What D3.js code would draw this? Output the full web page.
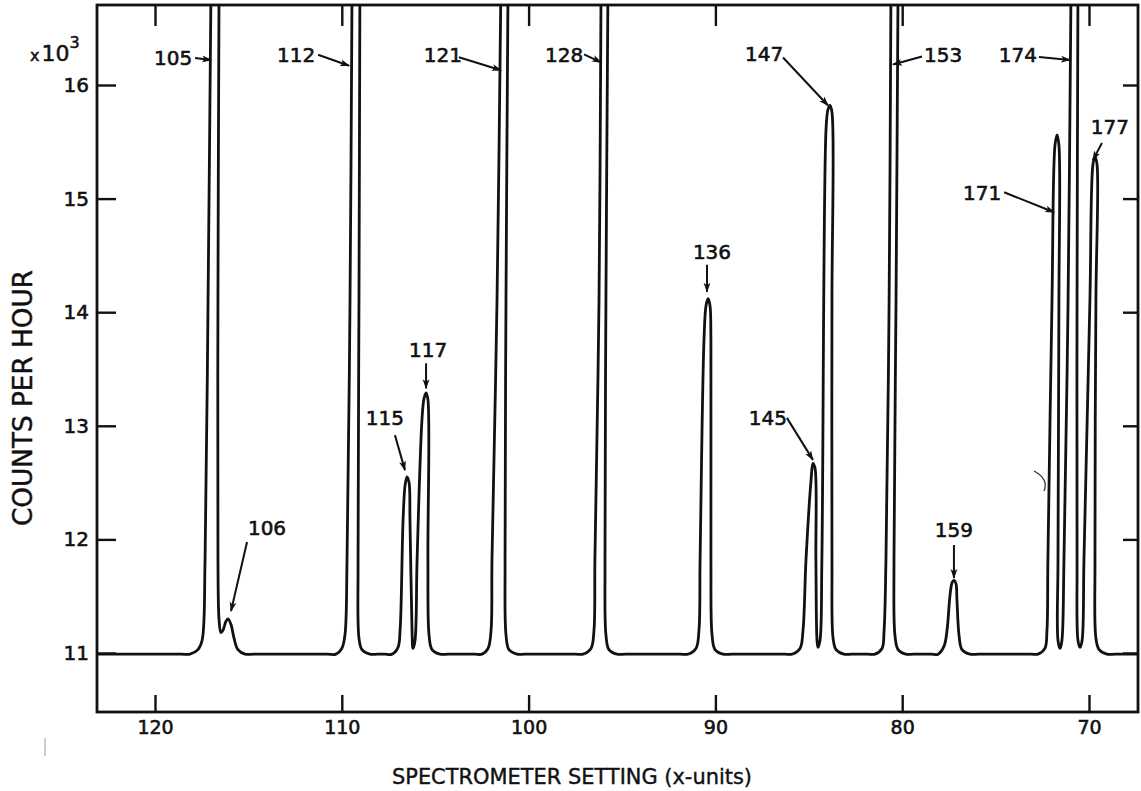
<!DOCTYPE html>
<html>
<head>
<meta charset="utf-8">
<script src="https://cdn.jsdelivr.net/npm/d3@7"></script>
<style>
  html, body { margin: 0; padding: 0; background: #fff; }
  svg { display: block; }
  text { font-family: "DejaVu Sans", "Liberation Sans", sans-serif; fill: #111; }
</style>
</head>
<body>
<svg id="chart" width="1141" height="791"></svg>
<script>
// Recorded trace: [spectrometer setting (x-units), counts per hour (x10^3)], left to right.
// Off-scale lines run past the top of the frame; the pen trace is broken there.
const trace = [
  [123.10, 10.99], [118.60, 10.99], [118.13, 10.99], [117.70, 11.03], [117.48, 11.11], [117.32, 11.82], [117.16, 14.11], [117.00, 16.9],
  [116.57, 16.9], [116.63, 14.11], [116.63, 11.82], [116.57, 11.29], [116.47, 11.18], [116.36, 11.20], [116.20, 11.28],
  [116.09, 11.30], [115.93, 11.25], [115.77, 11.13], [115.56, 11.03], [115.18, 10.99], [114.70, 10.99],
  [110.80, 10.99], [110.31, 10.99], [110.00, 11.04], [109.83, 11.16], [109.72, 11.82], [109.56, 14.11], [109.45, 16.9],
  [109.03, 16.9], [109.08, 14.11], [109.13, 11.82], [109.08, 11.13], [108.92, 11.03], [108.49, 10.99], [108.10, 10.99],
  [107.70, 10.99], [107.31, 10.99], [106.99, 11.05], [106.88, 11.20], [106.72, 12.17], [106.61, 12.48], [106.51, 12.55], [106.40, 12.50],
  [106.35, 12.17], [106.24, 11.20], [106.19, 11.04],
  [106.08, 11.11], [105.97, 11.82], [105.71, 13.05], [105.60, 13.24], [105.49, 13.29], [105.39, 13.23], [105.39, 11.82],
  [105.33, 11.16], [105.17, 11.03], [104.74, 10.99], [104.30, 10.99],
  [102.90, 10.99], [102.49, 10.99], [102.17, 11.04], [102.01, 11.20], [101.96, 11.82], [101.69, 14.11], [101.48, 16.9],
  [101.10, 16.9], [101.21, 14.11], [101.26, 11.82], [101.21, 11.16], [101.05, 11.03], [100.62, 10.99], [100.20, 10.99],
  [97.50, 10.99], [97.09, 10.99], [96.66, 11.04], [96.50, 11.20], [96.45, 11.82], [96.23, 14.11], [96.12, 16.9],
  [95.75, 16.9], [95.86, 14.11], [95.91, 11.82], [95.86, 11.16], [95.70, 11.03], [95.27, 10.99], [94.80, 10.99],
  [91.90, 10.99], [91.47, 10.99], [91.04, 11.04], [90.88, 11.20], [90.82, 11.82], [90.61, 13.76], [90.50, 14.06], [90.39, 14.12],
  [90.29, 14.06], [90.24, 13.76], [90.24, 11.82], [90.18, 11.16], [90.02, 11.03], [89.59, 10.99], [89.10, 10.99],
  [86.30, 10.99], [85.90, 10.99], [85.47, 11.04], [85.31, 11.20], [85.15, 11.82], [84.88, 12.52], [84.78, 12.67], [84.67, 12.63],
  [84.62, 11.82], [84.56, 11.11], [84.51, 11.05],
  [84.40, 11.11], [84.30, 11.82], [84.08, 15.60], [83.98, 15.78], [83.87, 15.82], [83.76, 15.76], [83.76, 14.11],
  [83.76, 11.82], [83.70, 11.13], [83.54, 11.03], [83.12, 10.99], [82.70, 10.99],
  [81.85, 10.99], [81.46, 10.99], [81.08, 11.04], [80.97, 11.20], [80.87, 11.82], [80.70, 14.11], [80.60, 16.9],
  [80.22, 16.9], [80.33, 14.11], [80.44, 11.82], [80.39, 11.16], [80.22, 11.03], [79.80, 10.99], [79.40, 10.99],
  [78.45, 10.99], [78.08, 10.99], [77.76, 11.06], [77.60, 11.20], [77.44, 11.51], [77.33, 11.62], [77.23, 11.64], [77.12, 11.61],
  [77.07, 11.47], [76.96, 11.16], [76.80, 11.03], [76.37, 10.99], [75.90, 10.99],
  [73.10, 10.99], [72.73, 10.99], [72.36, 11.04], [72.25, 11.20], [72.20, 11.82], [71.98, 14.11], [71.82, 15.47], [71.71, 15.56],
  [71.61, 15.47], [71.61, 14.11], [71.66, 11.82], [71.66, 11.11], [71.55, 11.04],
  [71.45, 11.11], [71.34, 11.82], [71.12, 14.11], [70.96, 16.9],
  [70.59, 16.9], [70.64, 14.11], [70.64, 11.82], [70.59, 11.11], [70.48, 11.05],
  [70.37, 11.11], [70.27, 11.82], [69.95, 14.11], [69.79, 15.30], [69.68, 15.37], [69.57, 15.30], [69.63, 14.11],
  [69.68, 11.82], [69.63, 11.13], [69.46, 11.03], [69.04, 10.99], [68.60, 10.99], [67.38, 10.99]
];

// Line identifications and the point on the trace each arrow marks
const lineLabels  = ["105", "106", "112", "115", "117", "121", "128", "136", "145", "147", "153", "159", "171", "174", "177"];
const lineSetting = [117.00, 115.93, 109.61, 106.62, 105.49, 101.48, 96.12, 90.45, 84.78, 83.97, 80.49, 77.23, 71.87, 71.02, 69.79];
const lineCounts  = [16.22, 11.37, 16.17, 12.61, 13.33, 16.13, 16.20, 14.18, 12.70, 15.82, 16.18, 11.66, 14.88, 16.22, 15.34];

const xTicks = [120, 110, 100, 90, 80, 70];
const yTicks = [11, 12, 13, 14, 15, 16];

// Callout placement: label centre and arrow tail, in pixels from the arrow tip
const labelOffset = [[-38, -2], [36, -83], [-53, -11], [-20, -52], [2, -38], [-58, -15], [-37, -7], [5, -40],
                     [-45, -42], [-64, -51], [50, -10], [0, -48], [-72, -19], [-52, -5], [17, -33]];
const tailOffset  = [[-16, -2], [16, -69], [-31, -11], [-10, -35], [0, -25], [-42, -13], [-17, -8], [0, -27],
                     [-26, -42], [-45, -48], [29, -8], [0, -33], [-50, -20], [-31, -3], [9, -17]];

const W = 1141, H = 791;
const frame = { left: 97, top: 5, right: 1138, bottom: 712 };
const ink = "#111";

const x = d3.scaleLinear().domain([120, 70]).range([155, 1089]);
const y = d3.scaleLinear().domain([11, 16]).range([653, 85]);

const svg = d3.select("#chart");
svg.append("rect").attr("width", W).attr("height", H).attr("fill", "#fff");

const defs = svg.append("defs");
defs.append("clipPath").attr("id", "plotArea")
  .append("rect")
  .attr("x", frame.left).attr("y", frame.top)
  .attr("width", frame.right - frame.left).attr("height", frame.bottom - frame.top);

defs.append("marker")
  .attr("id", "arrowTip")
  .attr("viewBox", "0 -4 10 8")
  .attr("refX", 9).attr("refY", 0)
  .attr("markerWidth", 10).attr("markerHeight", 8)
  .attr("markerUnits", "userSpaceOnUse")
  .attr("orient", "auto")
  .append("path")
  .attr("d", "M0,-3.4L10,0L0,3.4L2.5,0Z")
  .attr("fill", ink);

// Split the trace wherever it leaves the top of the frame between two points
const frameTopValue = y.invert(frame.top);
const runs = [];
let run = [];
trace.forEach((p, i) => {
  run.push(p);
  const next = trace[i + 1];
  if (next && p[1] > frameTopValue && next[1] > frameTopValue) { runs.push(run); run = []; }
});
runs.push(run);

const line = d3.line()
  .x(d => x(d[0]))
  .y(d => y(d[1]))
  .curve(d3.curveCatmullRom.alpha(0.5));

svg.append("g").attr("clip-path", "url(#plotArea)")
  .selectAll("path")
  .data(runs)
  .join("path")
  .attr("d", line)
  .attr("fill", "none")
  .attr("stroke", ink)
  .attr("stroke-width", 2.8)
  .attr("stroke-linejoin", "round")
  .attr("stroke-linecap", "round");

// Axes: ticks point inward on all four sides
function styleAxis(g) {
  g.select(".domain").remove();
  g.selectAll(".tick line").attr("stroke", ink).attr("stroke-width", 2.4);
  g.selectAll(".tick text").attr("fill", ink)
    .attr("stroke", ink).attr("stroke-width", 0.6)
    .style("font-family", '"DejaVu Sans", sans-serif');
}

svg.append("g")
  .attr("transform", `translate(0,${frame.bottom})`)
  .call(d3.axisBottom(x).tickValues(xTicks).tickSizeInner(-17).tickSizeOuter(0).tickPadding(9).tickFormat(d3.format("d")))
  .call(styleAxis)
  .call(g => g.selectAll(".tick text").style("font-size", "19px"));

svg.append("g")
  .attr("transform", `translate(0,${frame.top})`)
  .call(d3.axisTop(x).tickValues(xTicks).tickSizeInner(-21).tickSizeOuter(0).tickFormat(""))
  .call(styleAxis);

svg.append("g")
  .attr("transform", `translate(${frame.left},0)`)
  .call(d3.axisLeft(y).tickValues(yTicks).tickSizeInner(-19).tickSizeOuter(0).tickPadding(8).tickFormat(d3.format("d")))
  .call(styleAxis)
  .call(g => g.selectAll(".tick text").style("font-size", "20px"));

svg.append("g")
  .attr("transform", `translate(${frame.right},0)`)
  .call(d3.axisRight(y).tickValues(yTicks).tickSizeInner(-15).tickSizeOuter(0).tickFormat(""))
  .call(styleAxis);

// Frame
svg.append("rect")
  .attr("x", frame.left).attr("y", frame.top)
  .attr("width", frame.right - frame.left).attr("height", frame.bottom - frame.top)
  .attr("fill", "none").attr("stroke", ink).attr("stroke-width", 2.8);

// Scale factor note above the count axis
const scaleNote = svg.append("text").attr("x", 30).attr("y", 61)
  .attr("stroke", ink).attr("stroke-width", 0.5);
scaleNote.append("tspan").text("x").style("font-size", "16px");
scaleNote.append("tspan").attr("dx", 2).text("10").style("font-size", "22px");
scaleNote.append("tspan").attr("dy", -13).text("3").style("font-size", "16px");

// Axis titles
svg.append("text")
  .attr("transform", "translate(32,398) rotate(-90)")
  .attr("text-anchor", "middle")
  .attr("textLength", 256).attr("lengthAdjust", "spacingAndGlyphs")
  .attr("stroke", ink).attr("stroke-width", 0.4)
  .style("font-size", "26px")
  .text("COUNTS PER HOUR");

svg.append("text")
  .attr("x", 572).attr("y", 784)
  .attr("text-anchor", "middle")
  .attr("textLength", 360).attr("lengthAdjust", "spacingAndGlyphs")
  .attr("stroke", ink).attr("stroke-width", 0.4)
  .style("font-size", "21px")
  .text("SPECTROMETER SETTING (x-units)");

// Line callouts
const callouts = svg.append("g");
lineLabels.forEach((label, i) => {
  const tx = x(lineSetting[i]), ty = y(lineCounts[i]);
  callouts.append("line")
    .attr("x1", tx + tailOffset[i][0]).attr("y1", ty + tailOffset[i][1])
    .attr("x2", tx).attr("y2", ty)
    .attr("stroke", ink).attr("stroke-width", 2)
    .attr("marker-end", "url(#arrowTip)");
  callouts.append("text")
    .attr("x", tx + labelOffset[i][0]).attr("y", ty + labelOffset[i][1])
    .attr("text-anchor", "middle")
    .attr("dominant-baseline", "central")
    .attr("stroke", ink).attr("stroke-width", 0.6)
    .style("font-size", "20px")
    .text(label);
});

// Pencil marks
svg.append("path")
  .attr("d", "M1034,471 Q1049,479 1044,491")
  .attr("fill", "none").attr("stroke", "#333").attr("stroke-width", 1.3);
svg.append("line")
  .attr("x1", 45).attr("y1", 738).attr("x2", 45).attr("y2", 756)
  .attr("stroke", "#999").attr("stroke-width", 1);
</script>
</body>
</html>
